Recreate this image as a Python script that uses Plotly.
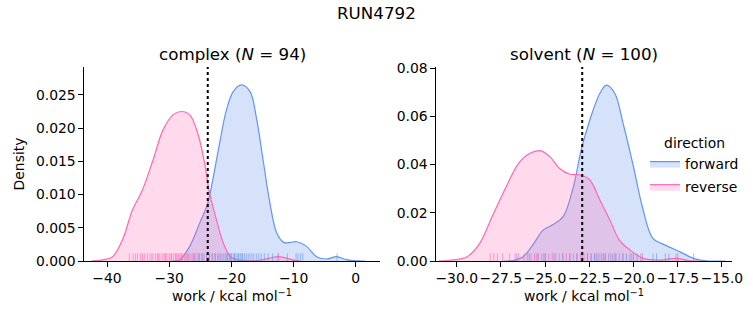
import plotly.graph_objects as go

# ---------------- data ----------------
run_title = "RUN4792"
complex_n = 94
solvent_n = 100

# complex phase KDE curves (work in kcal/mol, density)
cx_rev_x = [-42.5, -41.8, -40.5, -39.1, -37.5, -35.9, -34.3, -32.6, -31.0, -29.4, -28.1, -26.7, -25.4,
            -24.3, -23.5, -22.4, -21.3, -20.2, -19.2, -17.5, -15.5, -14.0, -12.5, -11.0, -9.8, -9.0]
cx_rev_y = [0.0, 0.00005, 0.0002, 0.00065, 0.0032, 0.0077, 0.0107, 0.0152, 0.0197, 0.0220, 0.0225, 0.0220, 0.0192,
            0.0147, 0.0102, 0.0062, 0.0027, 0.0007, 0.0002, 0.00005, 0.0001, 0.0004, 0.00065, 0.0004, 0.0001, 0.0]
cx_fwd_x = [-29.5, -28.3, -26.7, -25.1, -23.8, -23.0, -21.9, -20.8, -19.7, -18.4, -17.0, -16.0, -14.9,
            -13.8, -12.7, -11.6, -10.5, -9.5, -7.9, -6.3, -4.7, -3.1, -1.5, 0.2, 1.5]
cx_fwd_y = [0.0, 0.0002, 0.0022, 0.0057, 0.0087, 0.0122, 0.0177, 0.0227, 0.0255, 0.0265, 0.0255, 0.0217, 0.0152,
            0.0087, 0.0042, 0.0028, 0.0028, 0.0029, 0.0022, 0.00065, 0.0003, 0.00065, 0.0002, 0.00002, 0.0]

# solvent phase KDE curves
sv_rev_x = [-31.0, -30.4, -29.4, -28.7, -28.0, -27.2, -26.5, -25.86, -25.3, -24.73, -24.2, -23.6, -22.96,
            -22.47, -21.9, -21.34, -20.8, -20.2, -19.45, -18.5, -17.6, -16.8, -16.2]
sv_rev_y = [0.0, 0.0003, 0.0018, 0.0073, 0.0184, 0.0308, 0.0405, 0.0447, 0.0458, 0.0433, 0.0385, 0.0360, 0.0357,
            0.0336, 0.0253, 0.0170, 0.0087, 0.0046, 0.0011, 0.0004, 0.0011, 0.0001, 0.0]
sv_fwd_x = [-27.3, -26.8, -26.24, -25.7, -25.1, -24.6, -23.98, -23.4, -22.96, -22.47, -21.9, -21.53, -21.06,
            -20.59, -20.0, -19.5, -18.9, -18.2, -17.4, -16.6, -15.9, -15.2, -14.8]
sv_fwd_y = [0.0, 0.0002, 0.0018, 0.0066, 0.0129, 0.0149, 0.0184, 0.0308, 0.0461, 0.0585, 0.0696, 0.0730, 0.0696,
            0.0571, 0.0391, 0.0225, 0.0094, 0.0066, 0.0039, 0.0011, 0.0001, 0.0, 0.0]

# rug (individual work values)
cx_rev_rug = [-36.4, -35.8, -35.4, -35.1, -34.6, -34.3, -34.0, -33.5, -33.1, -32.8, -32.6, -32.2, -31.9, -31.7,
              -31.5, -31.1, -30.8, -30.6, -30.5, -30.2, -29.9, -29.7, -29.6, -29.3, -29.0, -28.9, -28.8, -28.5,
              -28.3, -28.1, -28.0, -27.8, -27.5, -27.3, -27.1, -27.0, -26.8, -26.5, -26.2, -26.0, -25.7, -25.4,
              -25.1, -24.8, -24.4, -24.0, -23.6, -23.1, -22.6, -22.0, -12.4]
cx_fwd_rug = [-26.0, -25.2, -24.6, -24.0, -23.5, -23.0, -22.6, -22.2, -21.8, -21.5, -21.2, -20.9, -20.7, -20.6,
              -20.3, -20.1, -20.0, -19.7, -19.5, -19.4, -19.1, -18.9, -18.8, -18.5, -18.3, -18.2, -17.9, -17.6,
              -17.3, -17.0, -16.7, -16.4, -16.0, -15.6, -15.2, -14.7, -14.1, -13.4, -12.5, -11.0, -9.6, -9.3,
              -8.9, -8.5, -3.0]
sv_rev_rug = [-28.1, -27.9, -27.7, -27.4, -27.0, -26.7, -26.5, -26.2, -26.0, -25.8, -25.6, -25.5, -25.4, -25.2,
              -25.1, -25.0, -24.8, -24.6, -24.4, -24.2, -24.0, -23.8, -23.6, -23.4, -23.2, -23.0, -22.8, -22.6,
              -22.4, -22.2, -21.9, -21.6, -21.3, -21.0, -20.6, -20.1, -19.6, -17.6]
sv_fwd_rug = [-26.6, -25.9, -25.4, -25.0, -24.5, -24.0, -23.6, -23.2, -22.9, -22.6, -22.4, -22.2, -22.1, -22.0,
              -21.8, -21.7, -21.6, -21.4, -21.2, -21.1, -21.0, -20.8, -20.6, -20.4, -20.2, -20.0, -19.8, -19.5,
              -18.9, -18.7, -18.2, -18.0, -17.5, -16.6]

# free-energy estimates (vertical dotted lines)
complex_dg = -23.8
solvent_dg = -22.9

# tick values
cx_xticks = [-40, -30, -20, -10, 0]
cx_yticks = [0.000, 0.005, 0.010, 0.015, 0.020, 0.025]
sv_xticks = [-30.0, -27.5, -25.0, -22.5, -20.0, -17.5, -15.0]
sv_yticks = [0.00, 0.02, 0.04, 0.06, 0.08]

# ---------------- style ----------------
FWD = "#6495ED"
REV = "#FF69B4"
FWD_FILL = "rgba(100,149,237,0.27)"
REV_FILL = "rgba(255,105,180,0.25)"
FWD_RUG = "rgba(100,149,237,0.6)"
REV_RUG = "rgba(255,105,180,0.6)"
FONT = "DejaVu Sans"
FS = 13.9
TFS = 16.7
W, H = 753, 325

fig = go.Figure()

def add_kde(x, y, color, fill, name, xa, ya, show):
    fig.add_trace(go.Scatter(x=x, y=y, mode="lines", line=dict(color=color, width=1.2, shape="spline"),
                             fill="tozeroy", fillcolor=fill, name=name, legendgroup=name,
                             showlegend=show, xaxis=xa, yaxis=ya, hoverinfo="skip"))

def add_rug(vals, color, xa, ya):
    fig.add_trace(go.Scatter(x=vals, y=[0] * len(vals), mode="markers",
                             marker=dict(symbol="line-ns", size=11, line=dict(color=color, width=1)),
                             showlegend=False, xaxis=xa, yaxis=ya, cliponaxis=True, hoverinfo="skip"))

add_kde(cx_fwd_x, cx_fwd_y, FWD, FWD_FILL, "forward", "x", "y", True)
add_kde(cx_rev_x, cx_rev_y, REV, REV_FILL, "reverse", "x", "y", True)
add_rug(cx_rev_rug, REV_RUG, "x", "y")
add_rug(cx_fwd_rug, FWD_RUG, "x", "y")

add_kde(sv_fwd_x, sv_fwd_y, FWD, FWD_FILL, "forward", "x2", "y2", False)
add_kde(sv_rev_x, sv_rev_y, REV, REV_FILL, "reverse", "x2", "y2", False)
add_rug(sv_rev_rug, REV_RUG, "x2", "y2")
add_rug(sv_fwd_rug, FWD_RUG, "x2", "y2")

for xv, xr, yr in [(complex_dg, "x", "y domain"), (solvent_dg, "x2", "y2 domain")]:
    fig.add_shape(type="line", x0=xv, x1=xv, y0=0, y1=1, xref=xr, yref=yr,
                  line=dict(color="black", width=2, dash="dot"), layer="above")

ydom = [(H - 261) / H, (H - 67) / H]
axis_common = dict(showline=True, linecolor="black", linewidth=1.1, ticks="outside", ticklen=4.5,
                   tickwidth=1.1, tickcolor="black", showgrid=False, zeroline=False, mirror=False,
                   automargin=False, tickangle=0, tickfont=dict(family=FONT, size=FS, color="black"))
xtitle = "work / kcal mol<sup>−1</sup>"

fig.update_layout(
    width=W, height=H, margin=dict(l=0, r=0, t=0, b=0, autoexpand=False),
    paper_bgcolor="white", plot_bgcolor="white",
    font=dict(family=FONT, size=FS, color="black"),
    xaxis=dict(domain=[84 / W, 380 / W], range=[-43.7, 3.9], tickvals=cx_xticks,
               title=dict(text=xtitle, font=dict(size=FS), standoff=6), **axis_common),
    yaxis=dict(domain=ydom, range=[0, 0.0292], tickvals=cx_yticks, tickformat=".3f",
               title=dict(text="Density", font=dict(size=FS), standoff=8), **axis_common),
    xaxis2=dict(domain=[436 / W, 732 / W], range=[-31.17, -14.43], tickvals=sv_xticks, tickformat=".1f",
                anchor="y2", title=dict(text=xtitle, font=dict(size=FS), standoff=6), **axis_common),
    yaxis2=dict(domain=ydom, range=[0, 0.0805], tickvals=sv_yticks, tickformat=".2f", anchor="x2",
                **axis_common),
    legend=dict(x=645 / W, y=(H - 130) / H, xanchor="left", yanchor="top", bgcolor="rgba(0,0,0,0)",
                title=dict(text="direction", side="top center", font=dict(size=FS)),
                font=dict(family=FONT, size=FS), itemwidth=30, tracegroupgap=2),
    showlegend=True,
    annotations=[
        dict(text=run_title, x=0.5, y=(H - 13) / H, xref="paper", yref="paper", showarrow=False,
             font=dict(family=FONT, size=TFS, color="black"), xanchor="center", yanchor="middle"),
        dict(text=f"complex (<i>N</i> = {complex_n})", x=232 / W, y=(H - 54) / H, xref="paper", yref="paper",
             showarrow=False, font=dict(family=FONT, size=TFS, color="black"), xanchor="center", yanchor="middle"),
        dict(text=f"solvent (<i>N</i> = {solvent_n})", x=584 / W, y=(H - 54) / H, xref="paper", yref="paper",
             showarrow=False, font=dict(family=FONT, size=TFS, color="black"), xanchor="center", yanchor="middle"),
    ],
)

fig.write_html("out.html")
